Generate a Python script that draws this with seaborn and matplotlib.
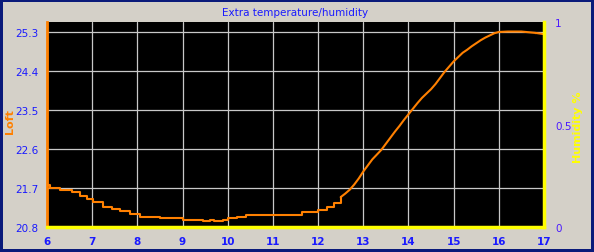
import matplotlib
matplotlib.use("Agg")
import matplotlib.pyplot as plt
import seaborn as sns
import pandas as pd

title = "Extra temperature/humidity"
left_label = "Loft"
right_label = "Humidity %"

# slow, stepped part of the record (drawn as steps)
hours_flat = [6.0, 6.07, 6.29, 6.55, 6.73, 6.88, 7.02, 7.24, 7.44, 7.62, 7.84, 8.06, 8.2, 8.5,
              9.0, 9.3, 9.45, 9.6, 9.7, 9.9, 10.0, 10.2, 10.4, 10.6, 11.0, 11.5, 11.65, 12.0,
              12.2, 12.35, 12.5]
temps_flat = [21.77, 21.71, 21.65, 21.60, 21.52, 21.44, 21.37, 21.27, 21.21, 21.16, 21.10, 21.04,
              21.02, 21.00, 20.97, 20.96, 20.93, 20.95, 20.94, 20.97, 21.00, 21.03, 21.08, 21.08,
              21.08, 21.08, 21.14, 21.20, 21.27, 21.35, 21.49]
# rise and plateau
hours_rise = [12.5, 12.6, 12.7, 12.8, 12.9, 13.0, 13.1, 13.2, 13.3, 13.4, 13.5,
              13.6, 13.7, 13.8, 13.9, 14.0, 14.1, 14.2, 14.3, 14.4, 14.5, 14.6, 14.7, 14.8,
              14.9, 15.0, 15.1, 15.2, 15.3, 15.4, 15.5, 15.6, 15.7, 15.8, 15.9, 16.0, 16.2,
              16.5, 16.8, 16.8, 17.0]
temps_rise = [21.49, 21.57, 21.66, 21.78, 21.92, 22.08,
              22.22, 22.36, 22.47, 22.58, 22.72, 22.86, 23.00, 23.13, 23.27, 23.40, 23.53, 23.66,
              23.78, 23.88, 23.98, 24.10, 24.24, 24.38, 24.50, 24.62, 24.72, 24.82, 24.89, 24.97,
              25.04, 25.11, 25.17, 25.22, 25.27, 25.30, 25.31, 25.31, 25.31, 25.25, 25.25]

x_ticks = [6, 7, 8, 9, 10, 11, 12, 13, 14, 15, 16, 17]
left_ticks = [20.8, 21.7, 22.6, 23.5, 24.4, 25.3]
right_ticks = [0, 0.5, 1]
right_tick_labels = ["0", "0.5", "1"]

df_flat = pd.DataFrame({"hour": hours_flat, "temp": temps_flat})
df_rise = pd.DataFrame({"hour": hours_rise, "temp": temps_rise})

sns.set_theme(style="dark")
plt.rcParams['font.family'] = ['DejaVu Sans']

bg = "#d4d0c8"
blue = "#1a1aff"
orange = "#ff8000"
yellow = "#ffff00"

fig = plt.figure(figsize=(5.94, 2.53), dpi=100, facecolor=bg)
fig.patch.set_edgecolor("#0a1a7a")
fig.patch.set_linewidth(3)
ax = fig.add_axes([47/594, 1-228/253, (544-47)/594, (228-23)/253])
ax.set_facecolor("black")

sns.lineplot(data=df_flat, x="hour", y="temp", ax=ax, color=orange, linewidth=1.5,
             drawstyle="steps-post", zorder=3)
sns.lineplot(data=df_rise, x="hour", y="temp", ax=ax, color=orange, linewidth=1.5,
             zorder=3)

ax.set_xlim(6, 17)
ax.set_ylim(20.8, 25.53)
ax.set_xticks(x_ticks)
ax.set_xticklabels([str(t) for t in x_ticks])
ax.set_yticks(left_ticks)
ax.set_yticklabels([f"{t:.1f}" for t in left_ticks])
ax.grid(True, color="#c8c8c8", linewidth=0.9)
ax.set_xlabel("")
ax.set_ylabel(left_label, color=orange, fontsize=8, fontweight="bold")
ax.yaxis.set_label_coords(-0.064, 0.52)
ax.tick_params(axis="x", colors=blue, labelsize=7.5, length=3.5, width=1, direction="out", pad=3)
ax.tick_params(axis="y", colors=blue, labelsize=7.5, length=0, pad=6)
for lab in ax.get_xticklabels():
    lab.set_fontweight("bold")
ax.spines["top"].set_visible(False)
ax.spines["left"].set_color(orange)
ax.spines["left"].set_linewidth(2)
ax.spines["bottom"].set_color(yellow)
ax.spines["bottom"].set_linewidth(2.5)
ax.spines["right"].set_visible(False)

ax2 = ax.twinx()
ax2.set_ylim(0, 1)
ax2.set_yticks(right_ticks)
ax2.set_yticklabels(right_tick_labels)
ax2.tick_params(axis="y", colors="#4a1aff", labelsize=7.5, length=0, pad=8)
ax2.grid(False)
ax2.spines["right"].set_visible(True)
ax2.spines["right"].set_color(yellow)
ax2.spines["right"].set_linewidth(2.5)
for s in ["top", "left", "bottom"]:
    ax2.spines[s].set_visible(False)
ax2.set_ylabel(right_label, color=yellow, fontsize=8, fontweight="bold", rotation=90)
ax2.yaxis.set_label_coords(1.058, 0.49)

ax.set_title(title, color=blue, fontsize=7.5, pad=5)

fig.savefig("out.png", dpi=100, facecolor=bg, edgecolor=fig.patch.get_edgecolor())
